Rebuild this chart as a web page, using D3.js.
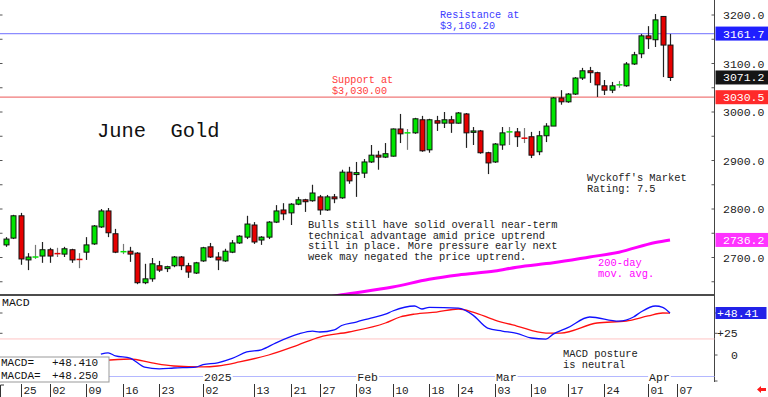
<!DOCTYPE html>
<html>
<head>
<meta charset="utf-8">
<script src="https://cdn.jsdelivr.net/npm/d3@7"></script>
<style>
body {margin:0; background:#fff;}
text {font-family:"Liberation Mono","DejaVu Sans Mono",monospace;}
</style>
</head>
<body>
<div id="canvas"></div>
<script>
// June gold daily bars, Nov 21 2024 .. Apr 4 2025 (trading day index 0..91)
var opens  = [2726,2740,2786,2695,2700,2703,2716,2710,2707,2716,2698,2711,2728,2763,2796,2749,2711,2713,2709,2648,
              2656,2683,2677,2683,2701,2683,2668,2693,2722,2701,2693,2711,2730,2742,2767,2736,2742,2773,2798,2792,
              2810,2819,2817,2825,2798,2825,2823,2876,2871,2874,2897,2911,2907,2909,2965,2956,2957,2984,2922,2982,
              2977,2984,2977,2996,2958,2961,2916,2897,2932,2958,2959,2947,2949,2918,2951,2971,3029,3021,3037,3070,
              3085,3081,3054,3045,3055,3054,3099,3120,3157,3149,3197,3138];
var highs  = [2742,2788,2792,2709,2726,2732,2720,2720,2722,2718,2709,2742,2767,2800,2802,2759,2728,2722,2711,2687,
              2699,2693,2683,2703,2703,2689,2691,2722,2730,2711,2718,2736,2746,2786,2773,2744,2775,2808,2812,2812,
              2825,2821,2850,2829,2829,2831,2881,2887,2897,2903,2932,2920,2936,2966,2996,2965,2988,2992,2986,2992,
              3000,2992,3000,2998,2969,2963,2918,2936,2969,2969,2967,2967,2959,2961,2977,3031,3045,3039,3072,3091,
              3093,3083,3066,3062,3064,3103,3124,3161,3177,3202,3197,3161];
var lows   = [2722,2738,2685,2674,2697,2689,2689,2701,2701,2689,2678,2695,2726,2761,2742,2709,2707,2691,2645,2645,
              2650,2670,2670,2680,2674,2658,2666,2691,2699,2674,2691,2709,2728,2738,2728,2726,2738,2771,2777,2767,
              2808,2794,2815,2788,2796,2812,2821,2852,2825,2864,2895,2881,2905,2908,2936,2922,2955,2918,2916,2961,
              2967,2957,2976,2926,2932,2914,2872,2895,2922,2932,2928,2936,2905,2911,2938,2971,3015,3019,3035,3066,
              3060,3031,3035,3039,3050,3052,3097,3111,3130,3134,3072,3064];
var closes = [2738,2786,2697,2701,2701,2716,2703,2708,2718,2695,2696,2726,2765,2796,2751,2711,2712,2707,2648,2656,
              2687,2674,2681,2701,2683,2670,2689,2720,2701,2695,2713,2730,2744,2769,2732,2742,2773,2796,2790,2810,
              2819,2815,2833,2798,2825,2821,2876,2858,2875,2897,2911,2907,2914,2965,2955,2957,2986,2920,2984,2977,
              2984,2977,2998,2957,2961,2916,2895,2934,2957,2959,2949,2946,2911,2951,2971,3029,3021,3037,3070,3085,
              3081,3056,3045,3054,3056,3099,3118,3157,3151,3190,3138,3071.2];

// 200-day moving average
var maIdx = [44,46,53,58,62,67,70,75,80,84,89,91];
var maVal = [2618,2623,2639,2655,2664,2672,2680,2689,2701,2711,2731,2736.2];

// MACD (blue) and MACDA (red)
var macdIdx = [13,14,15,17,19,21,23,26,27,29,31,33,35,37,40,42,43,45,46,48,50,52,53,56,57,58,62,64,66,68,70,72,74,75,77,80,84,86,87,89,90,91];
var macdVal = [1,2.5,-1,-3.5,-14,-16,-15,-14,-11,-9,-4,3.5,6,14,24,27.6,26.5,29,34,38,42.6,47,50.7,56.5,53,55,54,46,31,27.6,25,19.6,18.4,24,31.5,43.8,39,43.8,49.5,56.5,55,48.41];
var sigIdx = [13,17,20,23,27,29,32,36,40,43,47,52,54,56,59,62,64,67,70,74,76,81,85,88,90,91];
var sigVal = [-6.9,-4.6,-9.2,-12.7,-13.8,-12.7,-8,0,11.5,20.7,26.5,36.9,43.8,47.2,49.5,53,49.5,40.3,33.4,25.3,25.3,36.9,39.2,45,48.4,48.25];

// axis labels
var priceTicks = [3200,3100,3000,2900,2800,2700];
var dayIdx = [2,6,11,16,21,27,34,39,43,48,53,58,62,67,72,77,82,88,92];
var dayLabels = ["25","02","09","16","23","02","13","21","27","03","10","18","24","03","10","17","24","01","07"];
var monthIdx = [27,48,67,88];
var monthLabels = ["2025","Feb","Mar","Apr"];

var resistance = 3161.7;
var support = 3030.5;

var width = 768;
var height = 397;
var axisX = 714.5;
var panelBottom = 295;

var svg = d3.select("#canvas").append("svg")
	.attr("width",width)
	.attr("height",height)
	.style("display","block")
	.style("background","#fff");

var x = d3.scaleLinear().domain([0,91]).range([6,670]);
var y = d3.scaleLinear().domain([2700,3200]).range([257.5,15]);
var ym = d3.scaleLinear().domain([0,48.41]).range([355,313]);

svg.append("clipPath").attr("id","pclip")
	.append("rect").attr("x",0).attr("y",0).attr("width",axisX).attr("height",panelBottom);

// small ticks on both edges every 50
d3.range(2650,3250,50).forEach(function(v){
	svg.append("line").attr("x1",0).attr("x2",2.5).attr("y1",y(v)).attr("y2",y(v)).style("stroke","#555");
	svg.append("line").attr("x1",axisX-3).attr("x2",axisX).attr("y1",y(v)).attr("y2",y(v)).style("stroke","#555");
});

// support / resistance
svg.append("line").attr("x1",0).attr("x2",axisX).attr("y1",y(resistance)).attr("y2",y(resistance))
	.style("stroke","#8c8cff").style("stroke-width",1.3);
svg.append("line").attr("x1",0).attr("x2",axisX).attr("y1",y(support)).attr("y2",y(support))
	.style("stroke","#f07878").style("stroke-width",1.3);

// 200 day ma
svg.append("path")
	.datum(maIdx)
	.attr("clip-path","url(#pclip)")
	.attr("d",d3.line().x(function(d){return x(d);}).y(function(d,i){return y(maVal[i]);}).curve(d3.curveMonotoneX))
	.style("fill","none").style("stroke","#ff00ff").style("stroke-width",3);

// candles
var bars = svg.append("g");
opens.forEach(function(o,i){
	var c = closes[i];
	var up = c >= o;
	var col = up ? "#00e600" : "#e60000";
	var cx = Math.round(x(i))+0.5;
	var doji = Math.abs(c-o) <= 2.5;
	bars.append("line")
		.attr("x1",cx).attr("x2",cx)
		.attr("y1",y(highs[i])).attr("y2",y(lows[i]))
		.style("stroke",doji ? "#777" : "#222").style("stroke-width",1.2);
	if(doji){
		bars.append("line")
			.attr("x1",cx-3).attr("x2",cx+3)
			.attr("y1",y(c)).attr("y2",y(c))
			.style("stroke",col).style("stroke-width",1.5);
	}else{
		var top = y(Math.max(o,c)), bot = y(Math.min(o,c));
		bars.append("rect")
			.attr("x",cx-2.5).attr("width",5)
			.attr("y",top).attr("height",Math.max(1,bot-top))
			.style("fill",col).style("stroke","#111").style("stroke-width",1);
	}
});

// price panel bottom and right axis
svg.append("line").attr("x1",0).attr("x2",axisX).attr("y1",panelBottom).attr("y2",panelBottom)
	.style("stroke","#111").style("stroke-width",1.5);
svg.append("line").attr("x1",axisX).attr("x2",axisX).attr("y1",0).attr("y2",382)
	.style("stroke","#444").style("stroke-width",1);

// right axis labels
priceTicks.forEach(function(v){
	svg.append("text").attr("x",723).attr("y",y(v)+4)
		.style("font-size","11.5px").style("fill","#222").text(v.toFixed(1));
});

function tag(v,yy,bg,w){
	svg.append("rect").attr("x",axisX+1).attr("y",yy-7).attr("width",w||53).attr("height",14).style("fill",bg);
	svg.append("text").attr("x",723).attr("y",yy+4)
		.style("font-size","11.5px").style("fill","#fff").text(v);
}
tag("3161.7",y(resistance),"#1f1fff");
tag("3071.2",y(closes[91]),"#151515");
tag("3030.5",y(support),"#ff2a2a");
tag("2736.2",y(maVal[maVal.length-1]),"#ff33ff");

// annotations
function lines(txt,x0,y0,col,size,lh){
	txt.forEach(function(t,k){
		svg.append("text").attr("x",x0).attr("y",y0+k*lh)
			.style("font-size",size+"px").style("fill",col)
			.attr("xml:space","preserve").style("white-space","pre").text(t);
	});
}
lines(["Resistance at","$3,160.20"],440,18,"#3c3cff",10.2,10.5);
lines(["Support at","$3,030.00"],332,83,"#ff3c3c",10.2,10.5);
lines(["June  Gold"],97,137,"#111",20.4,0);
lines(["Bulls still have solid overall near-term",
       "technical advantage amid price uptrend",
       "still in place. More pressure early next",
       "week may negated the price uptrend."],308,228,"#222",10.4,10.7);
lines(["Wyckoff's Market","Rating: 7.5"],587,181,"#222",10.4,10.7);
lines(["200-day","mov. avg."],598,266,"#ff00ff",10.4,10.7);

// MACD panel
svg.append("line").attr("x1",0).attr("x2",axisX).attr("y1",ym(18.5)).attr("y2",ym(18.5))
	.style("stroke","#ffc4c4").style("stroke-width",1);
svg.append("text").attr("x",2).attr("y",306).style("font-size","11.5px").style("fill","#111").text("MACD");
[ym(48.41),ym(25)].forEach(function(v){
	svg.append("line").attr("x1",0).attr("x2",2.5).attr("y1",v).attr("y2",v).style("stroke","#555");
});
[ym(48.41),ym(25),ym(0),381].forEach(function(v){
	svg.append("line").attr("x1",axisX).attr("x2",axisX+3).attr("y1",v).attr("y2",v).style("stroke","#555");
});

svg.append("path")
	.datum(sigIdx)
	.attr("d",d3.line().x(function(d){return x(d);}).y(function(d,i){return ym(sigVal[i]);}).curve(d3.curveMonotoneX))
	.style("fill","none").style("stroke","#ff1010").style("stroke-width",1.3);
svg.append("path")
	.datum(macdIdx)
	.attr("d",d3.line().x(function(d){return x(d);}).y(function(d,i){return ym(macdVal[i]);}).curve(d3.curveMonotoneX))
	.style("fill","none").style("stroke","#1010ff").style("stroke-width",1.3);

svg.append("rect").attr("x",axisX+1).attr("y",ym(48.41)-6).attr("width",51).attr("height",12).style("fill","#2222e8");
svg.append("text").attr("x",717).attr("y",ym(48.41)+4).style("font-size","11.5px").style("fill","#fff").text("+48.41");
svg.append("text").attr("x",717).attr("y",ym(25)+4).style("font-size","11.5px").style("fill","#222").text("+25");
svg.append("text").attr("x",731).attr("y",ym(0)+4).style("font-size","11.5px").style("fill","#222").text("0");

lines(["MACD posture","is neutral"],563,357,"#222",10.4,10.5);

// month row
svg.append("line").attr("x1",0).attr("x2",axisX).attr("y1",376.5).attr("y2",376.5)
	.style("stroke","#b4b8ff").style("stroke-width",1);
monthIdx.forEach(function(d,k){
	var t = svg.append("text").attr("x",x(d)+1).attr("y",380.5)
		.style("font-size","11.5px").style("fill","#222").text(monthLabels[k]);
	var b = t.node().getBBox();
	svg.insert("rect",function(){return t.node();})
		.attr("x",b.x-1).attr("y",371).attr("width",b.width+2).attr("height",10).style("fill","#fff");
});

// value box
svg.append("rect").attr("x",-1).attr("y",357).attr("width",110).attr("height",25)
	.style("fill","#fff").style("stroke","#999").style("stroke-width",1);
lines(["MACD=","MACDA="],1,366,"#111",11,12.5);
lines(["+48.410","+48.250"],52,366,"#111",11,12.5);

// day row
dayIdx.forEach(function(d,k){
	var xx = Math.round(x(d))+0.5;
	svg.append("line").attr("x1",xx).attr("x2",xx).attr("y1",384).attr("y2",397)
		.style("stroke","#333").style("stroke-width",1);
	svg.append("text").attr("x",xx+2).attr("y",393.5)
		.style("font-size","11px").style("fill","#222").text(dayLabels[k]);
});
svg.append("path").attr("d","M0.5,397 V385 H4").style("fill","none").style("stroke","#333");

// small red arrow bottom right
svg.append("path").attr("d","M757,389.5 L761,386 L761,388 L766,388 L766,391 L761,391 L761,393 Z")
	.style("fill","#ff1a1a");
</script>
</body>
</html>
